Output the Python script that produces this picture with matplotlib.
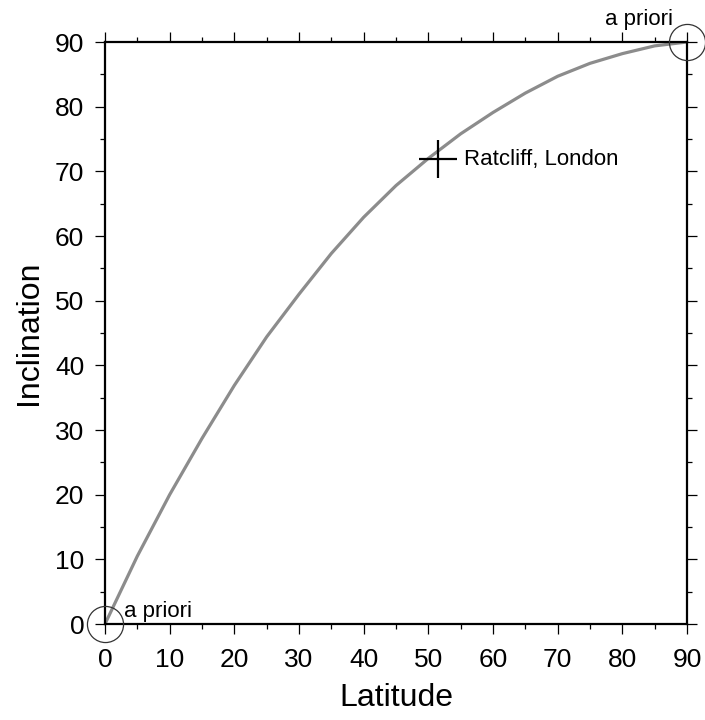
import matplotlib
matplotlib.use("Agg")
import matplotlib.pyplot as plt
from matplotlib.ticker import MultipleLocator

plt.rcParams['font.family'] = ['Liberation Sans', 'DejaVu Sans']

# curve
latitude = [0, 5, 10, 15, 20, 25, 30, 35, 40, 45, 50, 55, 60, 65, 70, 75, 80, 85, 90]
inclination = [0, 10.5, 20.0, 28.7, 36.9, 44.4, 51.0, 57.3, 62.9, 67.8, 72.0,
               75.8, 79.1, 82.1, 84.7, 86.7, 88.2, 89.4, 90]

site_lat = 51.5
site_inc = 71.9
site_name = "Ratcliff, London"

prior_lat = [0, 90]
prior_inc = [0, 90]

fig = plt.figure(figsize=(7.05, 7.2), dpi=100)
ax = fig.add_axes([105/705, 96/720, 582/705, 582/720])

ax.plot(latitude, inclination, color='#8c8c8c', lw=2.3, zorder=2,
        solid_joinstyle='round', solid_capstyle='round')
ax.plot(site_lat, site_inc, marker='+', ms=27, mew=1.6, color='black', zorder=3)
ax.annotate(site_name, (site_lat, site_inc), xytext=(19, 0), textcoords='offset points',
            va='center', ha='left', fontsize=16)

ax.plot(prior_lat, prior_inc, ls='none', marker='o', ms=26, mfc='none', mec='#333333',
        mew=0.9, clip_on=False, zorder=4)
ax.annotate("a priori", (prior_lat[0], prior_inc[0]), xytext=(14, 5), textcoords='offset points',
            ha='left', va='baseline', fontsize=16)
ax.annotate("a priori", (prior_lat[1], prior_inc[1]), xytext=(-10, 12), textcoords='offset points',
            ha='right', va='baseline', fontsize=16)

ax.set_xlim(0, 90)
ax.set_ylim(0, 90)
for ax_ in [ax.xaxis, ax.yaxis]:
    ax_.set_major_locator(MultipleLocator(10))
    ax_.set_minor_locator(MultipleLocator(5))
ax.tick_params(which='both', direction='out', top=True, right=True, width=0.9, color='black')
ax.tick_params(which='major', length=7, labelsize=19, pad=8)
ax.tick_params(which='minor', length=3.5)
ax.tick_params(axis='x', which='major', pad=10)
for s in ax.spines.values():
    s.set_linewidth(1.6)

ax.set_xlabel("Latitude", fontsize=23, labelpad=8)
ax.set_ylabel("Inclination", fontsize=23, labelpad=8)

fig.savefig("out.png", dpi=100)
